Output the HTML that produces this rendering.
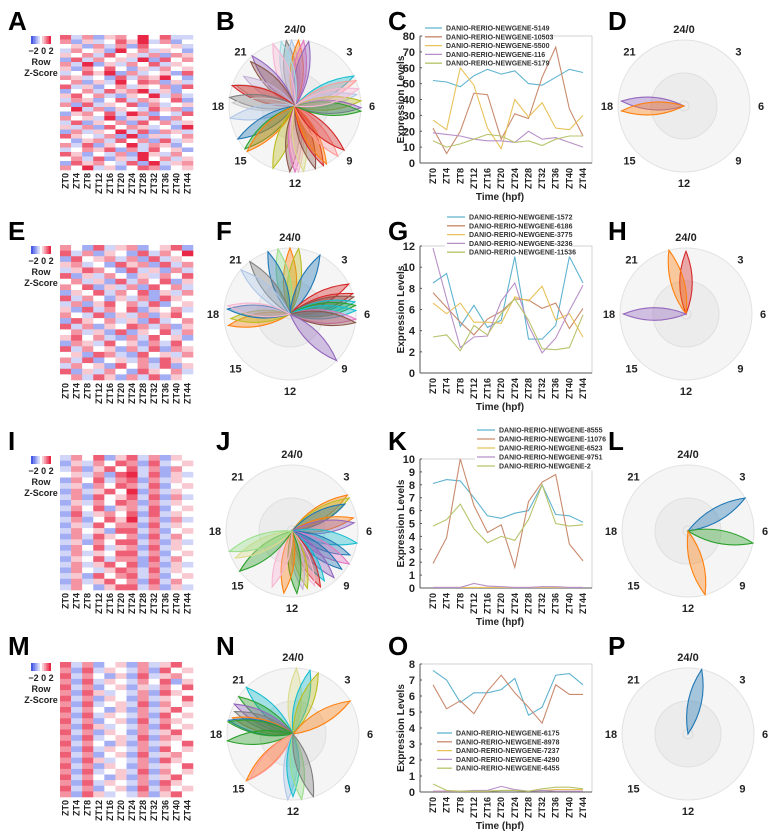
<!DOCTYPE html>
<html><head><meta charset="utf-8">
<style>
html,body{margin:0;padding:0;background:#fff;}
svg{display:block;font-family:"Liberation Sans",Arial,sans-serif;}
</style></head>
<body>
<svg id="fig" width="776" height="839" viewBox="0 0 776 839" xmlns="http://www.w3.org/2000/svg"></svg>
<script>
// ---------- DATA ----------
const timeLabels = ['ZT0','ZT4','ZT8','ZT12','ZT16','ZT20','ZT24','ZT28','ZT32','ZT36','ZT40','ZT44'];
const polarLabels = ['24/0','3','6','9','12','15','18','21'];

// Heatmaps (digit 0 = -2 blue, 4 = 0 white, 8 = +2 red)
const heatA = ["736256484733","625347583624","452636274453","364528463542","546374536265","273645382746","638253647354","526474253645","347582634527","653427365842","462538476253","735246354627","246375683524","574632548363","365247365472","627354726345","483625437562","256473862437","645382537264","372546274635","536274653428","263548372653","754362825346","425637462735","637254836524","346572637452","752436285364","463725384635","275643728356","648352476245"];
const heatE = ["642735624572","736254273648","274563627354","563427562736","357642735263","725364253647","463527364725","647253627463","254736472536","736425362754","362574637245","527364725463","643725362574","275463527346","736254763625","463527254736","574632637452","265374526374","736452637265","452763274536","637245362754","364527463725","725364275463","463752637254"];
const heatI = ["364725736254","253647627345","362574736264","453627837253","264736726354","352647637245","263574826354","362745737263","253647626354","364725637245","273564727354","362475836263","253746627354","364527736245","263754627364","352647736253","264735627354","363547736245","254736627364","363574726253","264357637354","352746736245","263574627364","364257736253"];
const heatM = ["736245263574","627354362745","736425273564","627354364725","736245253647","627534362754","736254263547","627345372645","736425263574","627354362745","736245273654","627534362745","736254263574","627345372654","736425263547","627354362745","736245273564","627534362754","736254263547","627345372645","736425263574","627354362754","736245273645","627534362574"];

// Line chart C
const cTicks = [0,10,20,30,40,50,60,70,80];
const cS5149  = [52,51,48,55,59,56,58,50,49,54,59,57];
const cS10503 = [22,6,20,44,43,15,31,28,54,73,34,17];
const cS5500  = [27,21,60,49,22,9,40,29,38,22,21,30];
const cS116   = [19,18,17,15,14,14,13,20,15,16,13,10];
const cS5179  = [14,10,12,15,18,17,13,14,11,15,17,17];
const cNames = ['DANIO-RERIO-NEWGENE-5149','DANIO-RERIO-NEWGENE-10503','DANIO-RERIO-NEWGENE-5500','DANIO-RERIO-NEWGENE-116','DANIO-RERIO-NEWGENE-5179'];
// Line chart G
const gTicks = [0,2,4,6,8,10,12];
const gS1572  = [8.5,9.4,4.4,6.4,4.3,5,11,3.2,3.2,4.5,11,8.5];
const gS6186  = [7.6,6.2,4.8,3.6,5.1,5.8,7,6.9,6.1,6.6,4.2,6.1];
const gS3775  = [6.6,5.6,6.6,4.8,4.8,4.7,7.2,6.8,8.2,5,5.6,3.4];
const gS3236  = [11.8,7,2.4,3.4,3.5,6.8,8.5,4.5,1.9,3.3,5.9,8.3];
const gS11536 = [3.4,3.6,2.1,4.5,3.6,5.6,7,5,2.3,2.2,2.4,5.5];
const gNames = ['DANIO-RERIO-NEWGENE-1572','DANIO-RERIO-NEWGENE-6186','DANIO-RERIO-NEWGENE-3775','DANIO-RERIO-NEWGENE-3236','DANIO-RERIO-NEWGENE-11536'];
// Line chart K
const kTicks = [0,1,2,3,4,5,6,7,8,9,10];
const kS8555  = [8.1,8.4,8.3,7,5.6,5.4,5.8,6,8,5.7,5.6,5.1];
const kS11076 = [1.9,3.9,10,6.4,4.3,4.9,1.6,6.7,8.2,8.8,3.4,2.1];
const kS6523  = [0.05,0.05,0.05,0.05,0.05,0.05,0.05,0.05,0.05,0.05,0.05,0.05];
const kS9751  = [0.05,0.05,0.05,0.35,0.15,0.1,0.05,0.05,0.1,0.1,0.05,0.05];
const kS2     = [4.8,5.3,6.5,4.6,3.5,4,3.7,5.3,8,5,4.8,4.9];
const kNames = ['DANIO-RERIO-NEWGENE-8555','DANIO-RERIO-NEWGENE-11076','DANIO-RERIO-NEWGENE-6523','DANIO-RERIO-NEWGENE-9751','DANIO-RERIO-NEWGENE-2'];
// Line chart O
const oTicks = [0,1,2,3,4,5,6,7,8];
const oS6175 = [7.6,7,5.6,6.2,6.2,6.4,7.1,4.8,5.3,7.3,7.4,6.7];
const oS8978 = [6.7,5.2,5.7,4.9,6.3,7.3,6.2,5.3,4.3,6.7,6.1,6.1];
const oS7237 = [0.05,0.05,0.05,0.05,0.05,0.1,0.1,0.05,0.1,0.15,0.15,0.15];
const oS4290 = [0.05,0.05,0.05,0.1,0.1,0.35,0.15,0.05,0.1,0.05,0.05,0.05];
const oS6455 = [0.5,0.1,0.05,0.05,0.05,0.1,0.1,0.05,0.2,0.3,0.3,0.2];
const oNames = ['DANIO-RERIO-NEWGENE-6175','DANIO-RERIO-NEWGENE-8978','DANIO-RERIO-NEWGENE-7237','DANIO-RERIO-NEWGENE-4290','DANIO-RERIO-NEWGENE-6455'];

// Polar petals: peak hour, relative amplitude, palette index
const bHours = [23.5,23.8,0.2,0.5,0.8,23.2,22.7,21.3,21,20,19.3,19.2,18.5,18.2,17.3,16,15.3,15.1,13.3,12.3,12,11.8,11.5,10.8,10.3,10.1,9.3,8.8,4.2,4.5,5.3,5.7,6.1,6.3,5.0];
const bAmps  = [1,1,1,1,1,1,1,1,0.95,0.9,0.95,1,1,0.95,1,1,1,1,1,1,1,1,1,1,1,1,1,1,1,1,0.95,1,1,1,1];
const bCols  = [7,10,1,6,4,19,16,4,5,14,15,3,7,17,10,0,2,1,8,5,6,16,18,5,3,1,13,3,9,13,10,8,4,2,16];
const dHours = [18.3,17.7]; const dAmps=[0.95,0.95]; const dCols=[4,1];
const fHours = [0,0.5,23.3,22.7,21.5,20.8,1.8,4.2,4.8,5.0,5.3,5.5,5.8,6.3,6.5,9.0,17.3,17.7,18.3,18.5];
const fAmps  = [1,1,1,1,1,1,1,1,1,1,1,1,1,1,1,1,0.95,0.9,0.95,0.95];
const fCols  = [1,8,12,0,7,10,0,3,3,5,9,2,9,6,5,4,1,8,0,16];
const hHours = [0,23,18]; const hAmps=[0.95,1,0.95]; const hCols=[3,1,4];
const jHours = [3.8,4.0,4.2,5.2,5.5,6.7,7.5,8,8.5,9.2,9.8,10.2,10.5,11,11.3,11.7,12.5,13.3,15.5,16.3,16.8];
const jAmps  = [1,1,0.9,0.95,0.95,1,0.95,1,0.95,0.95,0.9,0.95,0.9,0.9,0.9,0.95,0.95,0.9,1,0.95,1];
const jCols  = [1,8,0,1,4,9,0,6,0,4,9,3,16,8,14,2,1,16,2,18,12];
const lHours = [4,6.7,11]; const lAmps=[1,1,1]; const lCols=[0,2,1];
const nHours = [0.2,1.0,1.5,4,21,20.3,19.8,19.4,19,18.8,18.7,17.6,15,14.9,12.3,12,11.5,10.8];
const nAmps  = [1,1,1,1,1,1,1,0.95,0.95,1,1,1,1,0.95,1,0.95,1,1];
const nCols  = [18,9,8,1,9,2,4,7,1,0,2,2,1,13,10,9,12,7];
const pHours = [0.8]; const pAmps=[1]; const pCols=[0];

// ---------- STYLE / HELPERS ----------
const palette = ['#1f77b4','#ff7f0e','#2ca02c','#d62728','#9467bd','#8c564b','#e377c2','#7f7f7f','#bcbd22','#17becf','#aec7e8','#ffbb78','#98df8a','#ff9896','#c5b0d5','#c49c94','#f7b6d2','#c7c7c7','#dbdb8d','#9edae5'];
const lineCols = ['#5fb3cf','#c98a6e','#e8c25c','#b890c8','#b8c46c'];
const NS='http://www.w3.org/2000/svg';
const svg=document.getElementById('fig');
function mk(tag,attrs,parent){const e=document.createElementNS(NS,tag);for(const k in attrs)e.setAttribute(k,attrs[k]);(parent||svg).appendChild(e);return e;}
function txt(s,x,y,size,anchor,parent,extra){const t=mk('text',Object.assign({x:x,y:y,'font-size':size,'font-weight':'bold','text-anchor':anchor||'middle',fill:'#222'},extra||{}),parent);t.textContent=s;return t;}

function panelLetter(ch,x,y){
  const t=txt(ch,x,y,26,'start');
  t.setAttribute('fill','#000');
  
  
}

function heatColor(d){
  const v=(d-4)/4;
  if(v<0){const a=-v;return `rgb(${Math.round(255-a*(255-70))},${Math.round(255-a*(255-90))},${Math.round(255-a*(255-230))})`;}
  return `rgb(${Math.round(255-v*(255-232))},${Math.round(255-v*(255-40))},${Math.round(255-v*(255-70))})`;
}

function heatmap(rows,x0,y0,w,h,id){
  const g=mk('g',{});
  
  
  const cw=w/12, rh=h/rows.length;
  rows.forEach((r,i)=>{
    for(let j=0;j<12;j++){
      const c=mk('rect',{x:x0+j*cw,y:y0+i*rh,width:cw+0.3,height:rh+0.3,fill:heatColor(+r[j])},g);
      
      
    }
  });
  timeLabels.forEach((l,j)=>{
    const cx=x0+(j+0.5)*cw+3, ty=y0+h+3;
    const t=txt(l,cx,ty,9,'end',g,{transform:`rotate(-90 ${cx} ${ty})`});
    
    
  });
  // color key
  const kg=mk('g',{});
  
  
  for(let k=0;k<=8;k++){mk('rect',{x:31+k*2.2,y:y0+1,width:2.4,height:8,fill:heatColor(k)},kg);}
  txt('\u22122 0 2',41,y0+19,9,'middle',kg);
  txt('Row',41,y0+30,9,'middle',kg);
  txt('Z-Score',41,y0+41,9,'middle',kg);
}

function polar(cx,cy,R,hours,amps,cols,id){
  const g=mk('g',{});
  
  
  mk('circle',{cx:cx,cy:cy,r:R,fill:'#f5f5f5',stroke:'#e2e2e2'},g);
  mk('circle',{cx:cx,cy:cy,r:R*0.5,fill:'#ececec',stroke:'#e0e0e0'},g);
  mk('circle',{cx:cx,cy:cy,r:5,fill:'none',stroke:'#dcdcdc'},g);
  const rScale=a=>a*R;
  const angle=h=>h/24*2*Math.PI;
  hours.forEach((h,i)=>{
    const th=angle(h), L=rScale(amps[i]);
    const tx=cx+L*Math.sin(th), ty=cy-L*Math.cos(th);
    const px=Math.cos(th), py=Math.sin(th);
    const w=L*0.2, mx=(cx+tx)/2, my=(cy+ty)/2;
    const d=`M${cx},${cy} Q${mx+w*px},${my+w*py} ${tx},${ty} Q${mx-w*px},${my-w*py} ${cx},${cy}Z`;
    const col=palette[cols[i]];
    const p=mk('path',{d:d,fill:col,'fill-opacity':0.38,stroke:col,'stroke-width':1.1},g);
    
    
  });
  polarLabels.forEach((l,k)=>{
    const th=k*Math.PI/4, lr=R+11;
    const t=txt(l,cx+lr*Math.sin(th),cy-lr*Math.cos(th)+4,11,'middle',g);
    
    
  });
}

function lineChart(y0,y1,ticks,series,names,legend,id){
  const x0=420,x1=592, px0=433, px1=583;
  const vmax=ticks[ticks.length-1];
  const xS=i=>px0+(px1-px0)*i/11;
  const yS=v=>y1-(y1-y0)*v/vmax;
  const g=mk('g',{});
  
  
  mk('rect',{x:x0,y:y0,width:x1-x0,height:y1-y0,fill:'#fff',stroke:'#c8c8c8','stroke-width':0.8},g);
  mk('line',{x1:x0,y1:y0,x2:x0,y2:y1,stroke:'#555'},g);
  mk('line',{x1:x0,y1:y1,x2:x1,y2:y1,stroke:'#555'},g);
  ticks.forEach(t=>{
    const lb=txt(String(t),x0-5,yS(t)+4,11,'end',g);
    
    
    mk('line',{x1:x0,y1:yS(t),x2:x0+2,y2:yS(t),stroke:'#555'},g);
  });
  timeLabels.forEach((l,i)=>{
    const cx=xS(i)+3, ty=y1+5;
    const t=txt(l,cx,ty,9,'end',g,{transform:`rotate(-90 ${cx} ${ty})`});
    
    
  });
  const yt=txt('Expression Levels',404,(y0+y1)/2,10,'middle',g,{transform:`rotate(-90 404 ${(y0+y1)/2})`});
  
  
  const xt=txt('Time (hpf)',500,y1+37,10,'middle',g);
  
  
  series.forEach((s,k)=>{
    const pts=s.map((v,i)=>xS(i).toFixed(1)+','+yS(v).toFixed(1)).join(' ');
    const pl=mk('polyline',{points:pts,fill:'none',stroke:lineCols[k],'stroke-width':1.1},g);
    
    
  });
  names.forEach((n,k)=>{
    const ly=legend.y+k*legend.dy;
    const lg=mk('g',{},g);
    
    
    mk('rect',{x:legend.x-2,y:ly-4.5,width:legend.w+2,height:legend.dy,fill:'#fff'},lg);
    mk('line',{x1:legend.x,y1:ly,x2:legend.x+legend.l,y2:ly,stroke:lineCols[k],'stroke-width':1.3},lg);
    txt(n,legend.x+legend.l+4,ly+2.5,7,'start',lg,{fill:'#333'});
  });
}

// ---------- BUILD ----------
// Row 1
panelLetter('A',8,30); panelLetter('B',216,30); panelLetter('C',388,30); panelLetter('D',608,30);
heatmap(heatA,60,35,133,135,'a');
polar(295,106,66,bHours,bAmps,bCols,'b');
lineChart(36,163,cTicks,[cS5149,cS10503,cS5500,cS116,cS5179],cNames,{x:425,y:28,dy:8.8,l:17,w:118},'c');
polar(684,106,66,dHours,dAmps,dCols,'d');
// Row 2
panelLetter('E',8,240); panelLetter('F',216,240); panelLetter('G',388,240); panelLetter('H',608,240);
heatmap(heatE,60,245,133,135,'e');
polar(290,314,66,fHours,fAmps,fCols,'f');
lineChart(246,373,gTicks,[gS1572,gS6186,gS3775,gS3236,gS11536],gNames,{x:447,y:217,dy:8.8,l:18,w:124},'g');
polar(686,314,66,hHours,hAmps,hCols,'h');
// Row 3
panelLetter('I',8,450); panelLetter('J',216,450); panelLetter('K',388,450); panelLetter('L',608,450);
heatmap(heatI,60,455,133,135,'i');
polar(292,531,66,jHours,jAmps,jCols,'j');
lineChart(459,588,kTicks,[kS8555,kS11076,kS6523,kS9751,kS2],kNames,{x:477,y:430,dy:9,l:18,w:124},'k');
polar(688,531,66,lHours,lAmps,lCols,'l');
// Row 4
panelLetter('M',8,655); panelLetter('N',216,655); panelLetter('O',388,655); panelLetter('P',608,655);
heatmap(heatM,60,662,133,135,'m');
polar(293,734,66,nHours,nAmps,nCols,'n');
lineChart(664,792,oTicks,[oS6175,oS8978,oS7237,oS4290,oS6455],oNames,{x:437,y:733,dy:8.8,l:15,w:122},'o');
polar(688,734,66,pHours,pAmps,pCols,'p');
</script>
</body></html>
